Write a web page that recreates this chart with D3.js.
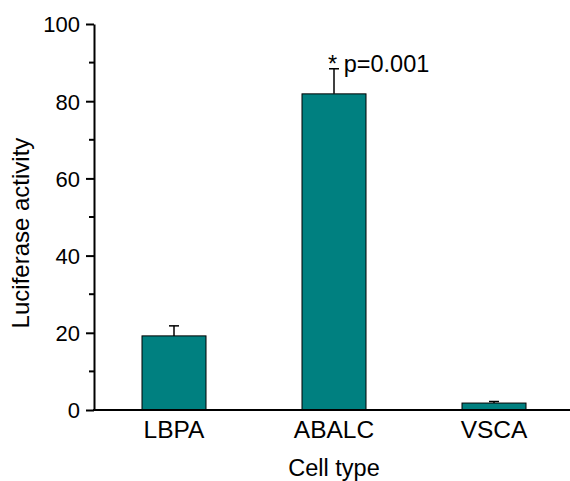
<!DOCTYPE html>
<html><head><meta charset="utf-8">
<script src="https://cdn.jsdelivr.net/npm/d3@7"></script>
<style>body{margin:0;background:#fff}svg{display:block}text{font-family:"Liberation Sans",Arial,sans-serif;fill:#000}</style>
</head><body>
<script>
const categories = ["LBPA", "ABALC", "VSCA"];
const values = [19.2, 81.9, 1.8];
const errors = [2.6, 6.5, 0.4];
const yTicks = [0, 20, 40, 60, 80, 100];
const minorTicks = [10, 30, 50, 70, 90];
const annotation = "* p=0.001";

const W = 570, H = 481;
const svg = d3.select("body").append("svg").attr("width", W).attr("height", H);
const x = d3.scaleBand().domain(categories).range([94, 574]).paddingInner(0.6).paddingOuter(0.3);
const y = d3.scaleLinear().domain([0, 100]).range([410, 24]);

// bars
svg.selectAll("rect.bar").data(categories).enter().append("rect")
  .attr("x", d => x(d)).attr("width", x.bandwidth())
  .attr("y", (d, i) => y(values[i])).attr("height", (d, i) => y(0) - y(values[i]))
  .attr("fill", "#008080").attr("stroke", "#000").attr("stroke-width", 1);

// error bars (upward)
categories.forEach((c, i) => {
  const cx = x(c) + x.bandwidth() / 2;
  svg.append("line").attr("x1", cx).attr("x2", cx)
    .attr("y1", y(values[i])).attr("y2", y(values[i] + errors[i]))
    .attr("stroke", "#000").attr("stroke-width", 1.5);
  svg.append("line").attr("x1", cx - 5).attr("x2", cx + 5)
    .attr("y1", y(values[i] + errors[i])).attr("y2", y(values[i] + errors[i]))
    .attr("stroke", "#000").attr("stroke-width", 1.5);
});

// y axis
const yAxis = d3.axisLeft(y).tickValues(yTicks).tickSize(8).tickPadding(6).tickSizeOuter(0);
const gy = svg.append("g").attr("transform", "translate(94,0)").call(yAxis);
gy.select(".domain").attr("stroke-width", 2);
gy.selectAll(".tick line").attr("stroke-width", 2);
gy.selectAll(".tick text").style("font-size", "22px").attr("dy", "0.36em");
gy.selectAll(".minor").data(minorTicks).enter().append("line").attr("class", "minor")
  .attr("x1", -5).attr("x2", 0).attr("y1", d => y(d)).attr("y2", d => y(d))
  .attr("stroke", "#000").attr("stroke-width", 2);

// x axis
const xAxis = d3.axisBottom(x).tickSize(0).tickPadding(0).tickSizeOuter(0);
const gx = svg.append("g").attr("transform", "translate(0,410)").call(xAxis);
gx.select(".domain").attr("d", "M93,0H570").attr("stroke-width", 2);
gx.selectAll(".tick text").style("font-size", "24.5px").attr("y", 28).attr("dy", null);

// labels
svg.append("text").attr("x", 334).attr("y", 476).attr("text-anchor", "middle")
  .style("font-size", "23.5px").text("Cell type");
svg.append("text").attr("transform", "translate(29,233) rotate(-90)").attr("text-anchor", "middle")
  .style("font-size", "24px").text("Luciferase activity");
svg.append("text").attr("x", x("ABALC") + x.bandwidth() / 2 - 6).attr("y", 71.5)
  .style("font-size", "23.5px").text(annotation);
</script>
</body></html>
